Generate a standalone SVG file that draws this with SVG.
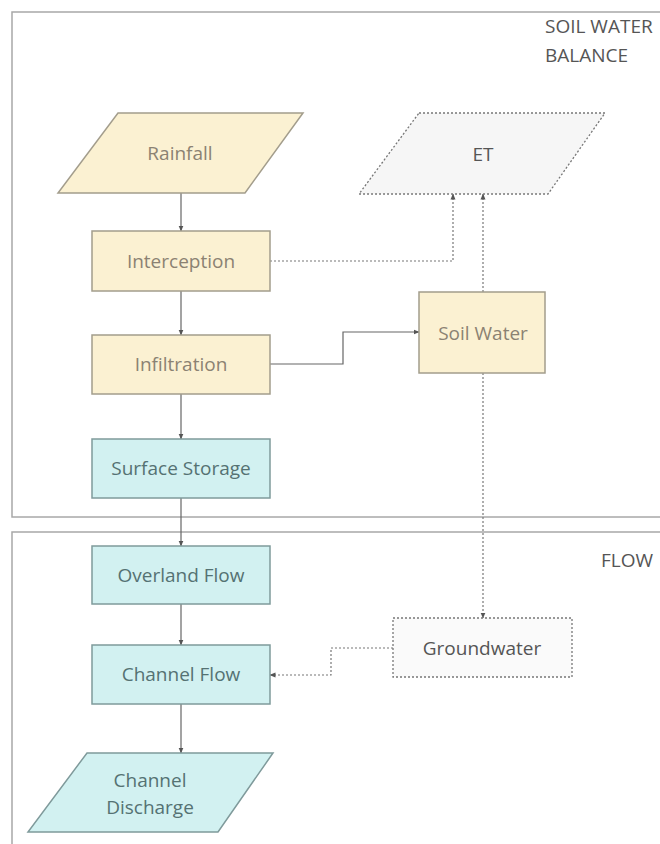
<svg xmlns="http://www.w3.org/2000/svg" width="660" height="844" viewBox="0 0 660 844">
<defs>
<marker id="arr" viewBox="0 0 6 6" refX="5.5" refY="3" markerWidth="6" markerHeight="6" orient="auto" markerUnits="userSpaceOnUse">
<path d="M0,0.5 L6,3 L0,5.5 Z" fill="#555"/>
</marker>
</defs>
<style>
.container{fill:#ffffff;stroke:#a8a8a8;stroke-width:1.5}
.ctext{font-family:"Open Sans","Liberation Sans",sans-serif;font-size:19px;fill:#555}
.yel{fill:#fbf1d2;stroke:#a39d8c;stroke-width:1.5}
.teal{fill:#d2f1f1;stroke:#7f9a9b;stroke-width:1.5}
.grey{fill:#f6f6f6;stroke:#777;stroke-width:1.3;stroke-dasharray:2 2}
.t{font-family:"Open Sans","Liberation Sans",sans-serif;font-size:19px;text-anchor:middle;dominant-baseline:central}
.ty{fill:#8b8272}
.tt{fill:#557273}
.tg{fill:#555}
.c{fill:none;stroke:#666;stroke-width:1.2}
.d{fill:none;stroke:#777;stroke-width:1.2;stroke-dasharray:2 2}
</style>
<g id="containers">
<g id="soil-water-balance">
<rect class="container" x="12" y="12" width="660" height="505"/>
<text class="ctext" x="545" y="33">SOIL WATER</text>
<text class="ctext" x="545" y="62">BALANCE</text>
</g>
<g id="flow">
<rect class="container" x="12" y="532" width="660" height="330"/>
<text class="ctext" x="601" y="567">FLOW</text>
</g>
</g>
<g id="connectors">
<path class="c" d="M181,193 V231" marker-end="url(#arr)"/>
<path class="c" d="M181,291 V335" marker-end="url(#arr)"/>
<path class="c" d="M181,394 V439" marker-end="url(#arr)"/>
<path class="c" d="M181,498 V546" marker-end="url(#arr)"/>
<path class="c" d="M181,604 V645" marker-end="url(#arr)"/>
<path class="c" d="M181,704 V753" marker-end="url(#arr)"/>
<path class="c" d="M270,364 H343 V332 H419" marker-end="url(#arr)"/>
<path class="d" d="M270,261 H453 V194" marker-end="url(#arr)"/>
<path class="d" d="M483,292 V194" marker-end="url(#arr)"/>
<path class="d" d="M483,373 V618" marker-end="url(#arr)"/>
<path class="d" d="M393,648 H331 V675 H270" marker-end="url(#arr)"/>
</g>
<g id="rainfall">
<polygon class="yel" points="118,113 303,113 245,193 58,193"/>
<text class="t ty" x="180" y="153">Rainfall</text>
</g>
<g id="interception">
<rect class="yel" x="92" y="231" width="178" height="60"/>
<text class="t ty" x="181" y="261">Interception</text>
</g>
<g id="infiltration">
<rect class="yel" x="92" y="335" width="178" height="59"/>
<text class="t ty" x="181" y="364">Infiltration</text>
</g>
<g id="surface-storage">
<rect class="teal" x="92" y="439" width="178" height="59"/>
<text class="t tt" x="181" y="468">Surface Storage</text>
</g>
<g id="overland-flow">
<rect class="teal" x="92" y="546" width="178" height="58"/>
<text class="t tt" x="181" y="575">Overland Flow</text>
</g>
<g id="channel-flow">
<rect class="teal" x="92" y="645" width="178" height="59"/>
<text class="t tt" x="181" y="674">Channel Flow</text>
</g>
<g id="channel-discharge">
<polygon class="teal" points="87,753 273,753 218,832 28,832"/>
<text class="t tt" x="150" y="780">Channel</text>
<text class="t tt" x="150" y="807">Discharge</text>
</g>
<g id="et">
<polygon class="grey" points="419,113 605,113 548,194 359,194"/>
<text class="t tg" x="483" y="154">ET</text>
</g>
<g id="soil-water">
<rect class="yel" x="419" y="292" width="126" height="81"/>
<text class="t ty" x="483" y="333">Soil Water</text>
</g>
<g id="groundwater">
<rect class="grey" x="393" y="618" width="179" height="59" style="fill:#fafafa"/>
<text class="t tg" x="482" y="648">Groundwater</text>
</g>
</svg>
